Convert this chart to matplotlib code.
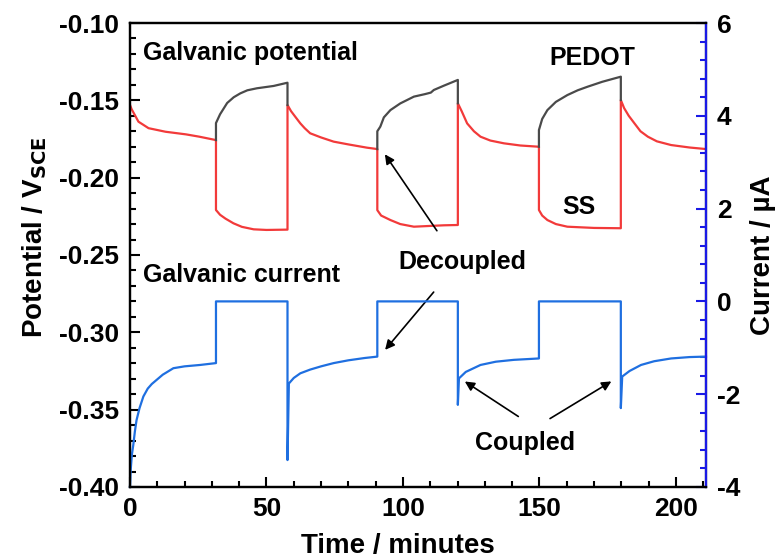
import matplotlib.pyplot as plt
from matplotlib.ticker import MultipleLocator

plt.rcParams['font.family'] = ['Liberation Sans', 'DejaVu Sans']
plt.rcParams['font.weight'] = 'bold'
plt.rcParams['mathtext.default'] = 'bf'
plt.rcParams['axes.unicode_minus'] = False

# coupled periods: SS and PEDOT share one potential
t_c1 = [0, 0.6, 3.1, 6.8, 13, 20.5, 25.4, 31.5]
v_c1 = [-0.153, -0.1557, -0.1638, -0.168, -0.1703, -0.172, -0.1735, -0.1757]
t_c2 = [57.7, 59, 60.5, 62.4, 64, 66, 70, 74.6, 80, 86.8, 90.6]
v_c2 = [-0.153, -0.157, -0.1605, -0.1649, -0.168, -0.1713, -0.174, -0.1767, -0.1785, -0.1806, -0.1815]
t_c3 = [120.1, 121.5, 123.5, 126, 128.4, 132, 137, 143, 149.8]
v_c3 = [-0.1519, -0.157, -0.1649, -0.170, -0.1735, -0.176, -0.1778, -0.1792, -0.180]
t_c4 = [179.8, 181, 182.7, 184.8, 187, 189.7, 193, 198.2, 205, 211]
v_c4 = [-0.1498, -0.155, -0.160, -0.1649, -0.170, -0.1735, -0.1765, -0.1789, -0.1805, -0.1815]

# decoupled: SS (red)
t_ss1 = [31.5, 33, 35, 37.9, 41, 45.3, 50, 57.7]
v_ss1 = [-0.2209, -0.224, -0.2265, -0.2295, -0.2318, -0.2334, -0.2338, -0.2336]
t_ss2 = [90.6, 92, 95.4, 99, 104, 110, 115, 120.1]
v_ss2 = [-0.221, -0.2245, -0.2274, -0.2300, -0.2317, -0.2312, -0.2308, -0.2306]
t_ss3 = [149.8, 151, 152.9, 156, 160.2, 170, 179.8]
v_ss3 = [-0.2209, -0.2245, -0.2274, -0.2300, -0.2317, -0.2325, -0.2327]

# decoupled: PEDOT (grey)
t_p1 = [31.5, 31.5, 33, 35.6, 38, 40.4, 43, 46.5, 52.6, 57.7, 57.7]
v_p1 = [-0.1757, -0.1647, -0.1590, -0.1517, -0.148, -0.1455, -0.1435, -0.1422, -0.1407, -0.1386, -0.153]
t_p2 = [90.6, 90.6, 91.7, 93, 95.4, 99, 104, 108, 110.2, 111.3, 115, 120.1, 120.1]
v_p2 = [-0.1815, -0.170, -0.167, -0.161, -0.1563, -0.152, -0.1476, -0.1460, -0.1450, -0.1433, -0.1405, -0.1368, -0.1519]
t_p3 = [149.8, 149.8, 151, 152.9, 156, 160.2, 164, 167.6, 173, 179.8, 179.8]
v_p3 = [-0.180, -0.1692, -0.1620, -0.1563, -0.1510, -0.1466, -0.1435, -0.1412, -0.138, -0.1347, -0.1498]

# galvanic current (uA)
t_i = [0, 0.3, 0.7, 1.2, 1.8, 2.4, 3.5, 4.9, 6.5, 8, 9.8, 12, 15.9, 20, 25.7, 31.5,
       31.5, 57.7, 57.7, 58.2, 60, 62.4, 66, 70, 74.6, 80, 86, 90.6,
       90.6, 120.1, 120.1, 120.5, 123, 128.4, 134, 140.6, 149.8,
       149.8, 179.8, 179.8, 180.3, 183, 187.2, 192, 198.2, 205, 211]
i_i = [-4.0, -3.6, -3.3, -3.1, -2.8, -2.56, -2.3, -2.05, -1.88, -1.78, -1.69, -1.58, -1.44, -1.40, -1.37, -1.33,
       0, 0, -3.42, -1.77, -1.65, -1.55, -1.47, -1.40, -1.33, -1.27, -1.22, -1.19,
       0, 0, -2.23, -1.66, -1.52, -1.37, -1.30, -1.26, -1.23,
       0, 0, -2.30, -1.62, -1.50, -1.37, -1.29, -1.23, -1.20, -1.19]

red = '#f23a3a'
grey = '#4a4a4a'
blue = '#1f6fe0'
spine_blue = '#1a1ae6'

t_red = t_c1 + t_ss1 + t_c2 + t_ss2 + t_c3 + t_ss3 + t_c4
v_red = v_c1 + v_ss1 + v_c2 + v_ss2 + v_c3 + v_ss3 + v_c4

fig = plt.figure(figsize=(7.76, 5.6), dpi=100)
ax = fig.add_axes([0.1675, 0.1304, 0.7423, 0.8285])
ax2 = ax.twinx()

ax.plot(t_red, v_red, color=red, lw=1.6)
for tp, vp in [(t_p1, v_p1), (t_p2, v_p2), (t_p3, v_p3)]:
    ax.plot(tp, vp, color=grey, lw=1.6)
ax2.plot(t_i, i_i, color=blue, lw=1.6, clip_on=False)

ax.set_xlim(0, 211)
ax.set_ylim(-0.40, -0.10)
ax2.set_ylim(-4, 6)

ax.xaxis.set_major_locator(MultipleLocator(50))
ax.xaxis.set_minor_locator(MultipleLocator(10))
ax.yaxis.set_major_locator(MultipleLocator(0.05))
ax.yaxis.set_minor_locator(MultipleLocator(0.01))
ax2.yaxis.set_major_locator(MultipleLocator(2))
ax2.yaxis.set_minor_locator(MultipleLocator(0.4))

ax.tick_params(axis='both', which='both', direction='in', width=1.5, labelsize=19, top=False, right=False)
ax.tick_params(axis='y', pad=8)
ax.tick_params(axis='x', pad=7)
ax.tick_params(which='major', length=7)
ax.tick_params(which='minor', length=4)
ax2.tick_params(axis='y', which='both', direction='in', width=1.5, colors=spine_blue, labelcolor='black',
                labelsize=19, pad=8)
ax2.tick_params(which='major', length=7)
ax2.tick_params(which='minor', length=4)
ax.yaxis.set_major_formatter(plt.FuncFormatter(lambda v, p: '%.2f' % v))
for lab in ax.get_xticklabels() + ax.get_yticklabels() + ax2.get_yticklabels():
    lab.set_fontweight('bold')

for s in ax.spines.values():
    s.set_linewidth(1.6)
for s in ax2.spines.values():
    s.set_linewidth(1.6)
ax2.spines['right'].set_color(spine_blue)

ax.set_xlabel('Time / minutes', fontsize=20, fontweight='bold')
ax.xaxis.set_label_coords(0.465, -0.1)
ax.set_ylabel('Potential / V$_{SCE}$', fontsize=20, fontweight='bold')
ax.yaxis.set_label_coords(-0.14, 0.537)
ax2.set_ylabel('Current / µA', fontsize=20, fontweight='bold', labelpad=7)

fs = 18
ax.text(4.8, -0.1194, 'Galvanic potential', fontsize=fs, fontweight='bold', va='center')
ax.text(169.2, -0.1226, 'PEDOT', fontsize=fs, fontweight='bold', ha='center', va='center')
ax.text(164.4, -0.219, 'SS', fontsize=fs, fontweight='bold', ha='center', va='center')
ax.text(4.8, -0.263, 'Galvanic current', fontsize=fs, fontweight='bold', va='center')
ax.text(121.8, -0.2545, 'Decoupled', fontsize=fs, fontweight='bold', ha='center', va='center')
ax.text(144.6, -0.3716, 'Coupled', fontsize=fs, fontweight='bold', ha='center', va='center')

arrow = dict(arrowstyle='-|>', color='black', lw=1.2, mutation_scale=14)
ax.annotate('', xy=(92.8, -0.1834), xytext=(113, -0.2358), arrowprops=arrow)
ax.annotate('', xy=(92.8, -0.3127), xytext=(111.9, -0.2726), arrowprops=arrow)
ax.annotate('', xy=(121.8, -0.3308), xytext=(143.1, -0.3554), arrowprops=arrow)
ax.annotate('', xy=(177.2, -0.3308), xytext=(153, -0.3567), arrowprops=arrow)

fig.savefig('out.png', dpi=100)
